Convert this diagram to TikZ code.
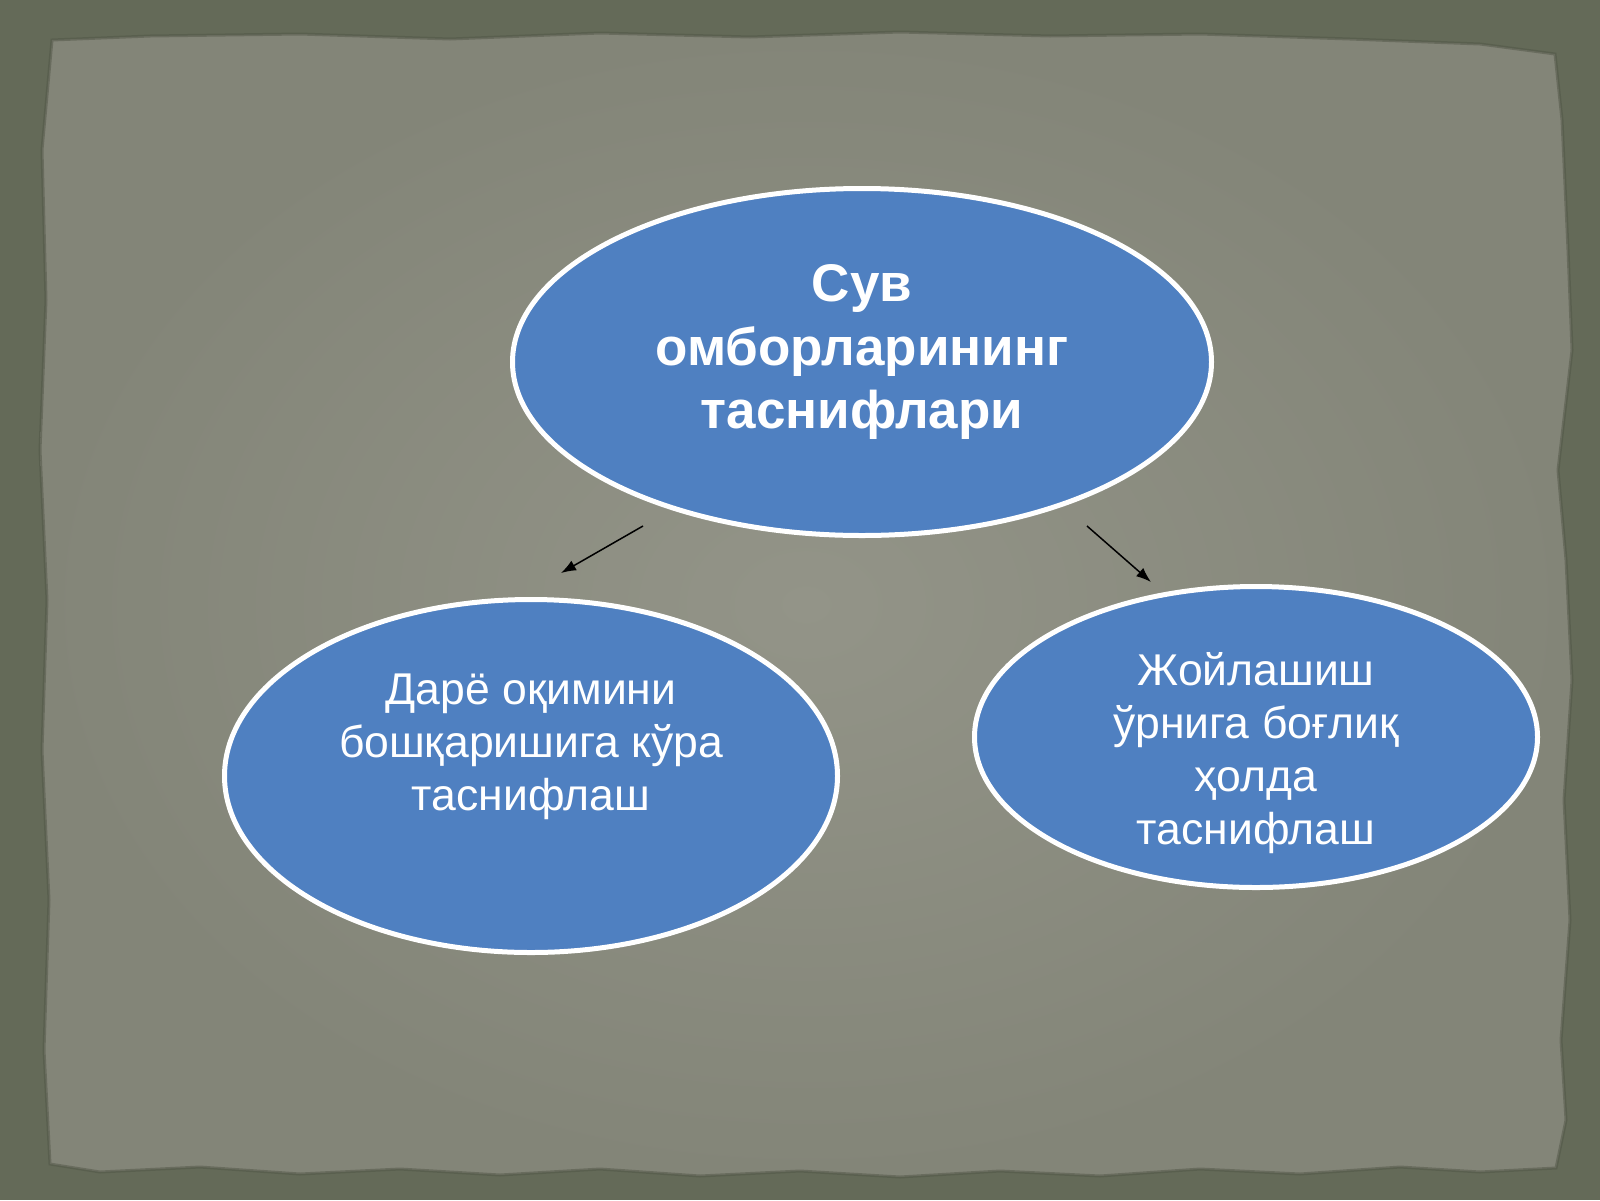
\documentclass[tikz,border=0pt]{standalone}
\usepackage{fontspec}
\setmainfont{Liberation Sans}
\usetikzlibrary{shapes.geometric,arrows.meta}
\definecolor{outerbg}{HTML}{646A58}
\definecolor{paperin}{HTML}{939488}
\definecolor{paperout}{HTML}{838578}
\definecolor{ovalblue}{HTML}{4F80C1}
\tikzset{
  oval/.style={ellipse, draw=white, line width=5pt, fill=ovalblue, inner sep=0pt},
  maintxt/.style={text=white, align=center, font=\bfseries\fontsize{53}{63.5}\selectfont},
  subtxt/.style={text=white, align=center, font=\fontsize{44.5}{53}\selectfont},
  conn/.style={line width=1.5pt, black, -{Latex[length=15pt,width=11pt]}}
}
\begin{document}
\begin{tikzpicture}[x=1pt,y=-1pt]
\useasboundingbox (0,0) rectangle (1600,1200);
\fill[outerbg] (0,0) rectangle (1600,1200);
\shade[inner color=paperin, outer color=paperout, draw=outerbg!80!black, draw opacity=0.5, line width=3pt]
 (52,40) -- (150,36) -- (300,34) -- (450,39) -- (600,33) -- (750,37) -- (900,32) -- (1050,36) -- (1200,34) -- (1350,39) -- (1480,44) -- (1555,54)
 -- (1562,120) -- (1568,250) -- (1572,350) -- (1558,470) -- (1566,560) -- (1572,680) -- (1564,800) -- (1570,920) -- (1561,1040) -- (1566,1120) -- (1556,1168)
 -- (1480,1172) -- (1400,1167) -- (1300,1174) -- (1200,1169) -- (1100,1176) -- (1000,1171) -- (900,1177) -- (800,1171) -- (700,1176) -- (600,1169) -- (500,1175) -- (400,1169) -- (300,1174) -- (200,1167) -- (100,1172) -- (50,1164)
 -- (44,1050) -- (49,900) -- (42,750) -- (47,600) -- (40,450) -- (46,300) -- (42,150) -- cycle;

\node[oval, minimum width=699pt, minimum height=347pt] (top) at (862,362) {};
\node[oval, minimum width=613pt, minimum height=353pt] (left) at (531,776) {};
\node[oval, minimum width=563pt, minimum height=301pt] (right) at (1256,737) {};

\node[maintxt] (toptxt) at (862,352) {Сув\\омборларининг\\таснифлари};
\node[subtxt] (lefttxt) at (531,747) {Дарё оқимини\\бошқаришига кўра\\таснифлаш};
\node[subtxt] (righttxt) at (1256,753) {Жойлашиш\\ўрнига боғлиқ\\ҳолда\\таснифлаш};

\coordinate (la) at (643,526);
\coordinate (lb) at (561,573);
\coordinate (ra) at (1087,526);
\coordinate (rb) at (1151,582);
\draw[conn] (la) -- (lb);
\draw[conn] (ra) -- (rb);
\end{tikzpicture}
\end{document}
